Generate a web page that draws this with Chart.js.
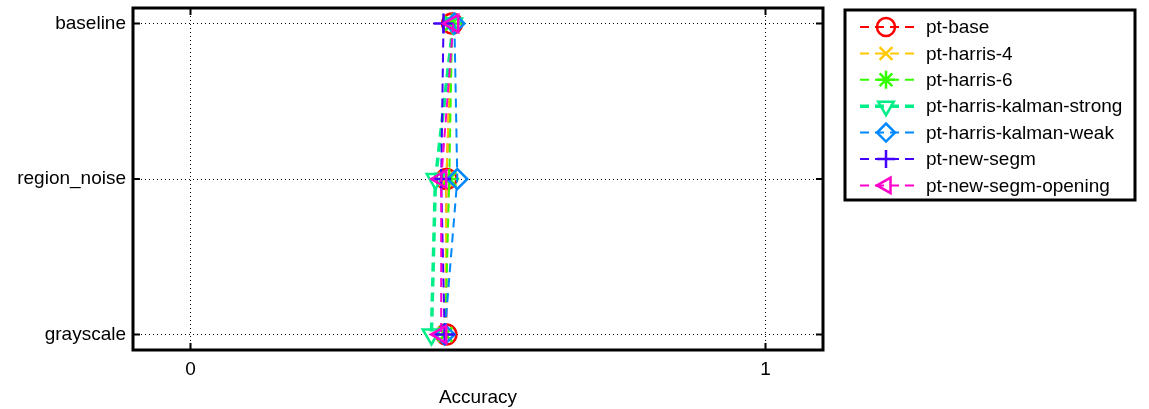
<!DOCTYPE html>
<html lang="en">
<head>
    <meta charset="UTF-8">
    <title>Accuracy per condition</title>
    <style>
        html, body { margin: 0; padding: 0; background: #fff; }
        #wrap { width: 1149px; height: 409px; }
    </style>
    <script src="https://cdn.jsdelivr.net/npm/chart.js@4"></script>
</head>
<body>
    <div id="wrap"><canvas id="accChart" width="1149" height="409"></canvas></div>
    <script>
        // conditions, top to bottom
        const conditions = ["baseline", "region_noise", "grayscale"];
        const conditionPos = [3, 2, 1];
        const xTickValues = [0, 1];

        const seriesNames = ["pt-base", "pt-harris-4", "pt-harris-6", "pt-harris-kalman-strong",
                             "pt-harris-kalman-weak", "pt-new-segm", "pt-new-segm-opening"];
        // accuracy per series: baseline, region_noise, grayscale
        const ptBase          = [0.455, 0.445, 0.445];
        const ptHarris4       = [0.454, 0.445, 0.443];
        const ptHarris6       = [0.455, 0.450, 0.443];
        const ptKalmanStrong  = [0.457, 0.426, 0.419];
        const ptKalmanWeak    = [0.459, 0.464, 0.442];
        const ptNewSegm       = [0.440, 0.436, 0.442];
        const ptNewSegmOpen   = [0.457, 0.436, 0.436];
        const seriesValues = [ptBase, ptHarris4, ptHarris6, ptKalmanStrong, ptKalmanWeak, ptNewSegm, ptNewSegmOpen];

        const colors = ["#ff0000", "#ffc800", "#33ff00", "#00ee88", "#0088ff", "#4400ff", "#ff00cc"];
        const markers = ["circle", "crossRot", "star", "triangle", "rectRot", "cross", "triangle"];
        const rotations = [0, 0, 0, 180, 0, 0, -90];
        const lineWidths = [2, 2, 2, 3.5, 2, 2, 2];

        const FONT = "'Liberation Sans', Arial, sans-serif";

        const datasets = seriesNames.map((name, i) => ({
            label: name,
            data: seriesValues[i].map((v, k) => ({ x: v, y: conditionPos[k] })),
            borderColor: colors[i],
            backgroundColor: colors[i],
            borderWidth: lineWidths[i],
            borderDash: [9, 6],
            pointStyle: markers[i],
            rotation: rotations[i],
            pointRadius: 10,
            pointBorderWidth: 2.5,
            pointBorderColor: colors[i],
            pointBackgroundColor: "rgba(0,0,0,0)",
            tension: 0,
            order: 10 - i
        }));

        // frame, inward ticks and the legend box
        const matlabLook = {
            id: "matlabLook",
            afterDraw(chart) {
                const ctx = chart.ctx;
                const a = chart.chartArea;
                const xs = chart.scales.x, ys = chart.scales.y;
                ctx.save();
                ctx.strokeStyle = "#000";
                ctx.lineWidth = 2;
                ctx.setLineDash([]);
                xTickValues.forEach(v => {
                    const px = xs.getPixelForValue(v);
                    ctx.beginPath();
                    ctx.moveTo(px, a.bottom); ctx.lineTo(px, a.bottom - 7);
                    ctx.moveTo(px, a.top); ctx.lineTo(px, a.top + 7);
                    ctx.stroke();
                });
                conditionPos.forEach(v => {
                    const py = ys.getPixelForValue(v);
                    ctx.beginPath();
                    ctx.moveTo(a.left, py); ctx.lineTo(a.left + 7, py);
                    ctx.moveTo(a.right, py); ctx.lineTo(a.right - 7, py);
                    ctx.stroke();
                });
                ctx.lineWidth = 3;
                ctx.strokeRect(a.left, a.top, a.right - a.left, a.bottom - a.top);

                // legend
                const lx = 845, ly = 10, lw = 290, lh = 190;
                ctx.fillStyle = "#fff";
                ctx.fillRect(lx, ly, lw, lh);
                ctx.strokeRect(lx, ly, lw, lh);
                ctx.font = "19px " + FONT;
                ctx.textBaseline = "middle";
                ctx.textAlign = "left";
                chart.data.datasets.forEach((ds, i) => {
                    const y = 27 + i * 26.4;
                    ctx.strokeStyle = ds.borderColor;
                    ctx.lineWidth = ds.borderWidth;
                    ctx.setLineDash(ds.borderDash);
                    ctx.beginPath();
                    ctx.moveTo(860, y); ctx.lineTo(920, y);
                    ctx.stroke();
                    ctx.setLineDash([]);
                    ctx.lineWidth = 2.5;
                    ctx.fillStyle = "rgba(0,0,0,0)";
                    Chart.helpers.drawPoint(ctx, {
                        pointStyle: ds.pointStyle,
                        radius: 9,
                        rotation: ds.rotation,
                        borderWidth: 2.5
                    }, 886, y);
                    ctx.fillStyle = "#000";
                    ctx.fillText(ds.label, 926, y + 1);
                });
                ctx.restore();
            }
        };

        new Chart(document.getElementById("accChart"), {
            type: "line",
            data: { datasets: datasets },
            options: {
                responsive: false,
                animation: false,
                layout: { autoPadding: false, padding: { left: 0, top: 8, right: 326, bottom: 0 } },
                plugins: { legend: { display: false }, tooltip: { enabled: false } },
                scales: {
                    x: {
                        type: "linear",
                        min: -0.1,
                        max: 1.1,
                        afterBuildTicks: s => { s.ticks = xTickValues.map(v => ({ value: v })); },
                        afterFit: s => { s.height = 59; s.paddingLeft = 0; s.paddingRight = 0; },
                        grid: { color: "#000", lineWidth: 1, drawTicks: false, borderDash: [1, 3] },
                        border: { display: false, dash: [1, 3] },
                        ticks: { color: "#000", font: { family: FONT, size: 19 }, padding: 8, maxRotation: 0 },
                        title: { display: true, text: "Accuracy", color: "#000", font: { family: FONT, size: 19 }, padding: { top: 6, bottom: 0 } }
                    },
                    y: {
                        type: "linear",
                        min: 0.9,
                        max: 3.1,
                        afterBuildTicks: s => { s.ticks = conditionPos.map(v => ({ value: v })); },
                        afterFit: s => { s.width = 133; s.paddingTop = 0; s.paddingBottom = 0; },
                        grid: { color: "#000", lineWidth: 1, drawTicks: false },
                        border: { display: false, dash: [1, 3] },
                        ticks: {
                            color: "#000",
                            font: { family: FONT, size: 19 },
                            padding: 7,
                            callback: v => conditions[conditionPos.indexOf(v)]
                        }
                    }
                }
            },
            plugins: [matlabLook]
        });
    </script>
</body>
</html>
